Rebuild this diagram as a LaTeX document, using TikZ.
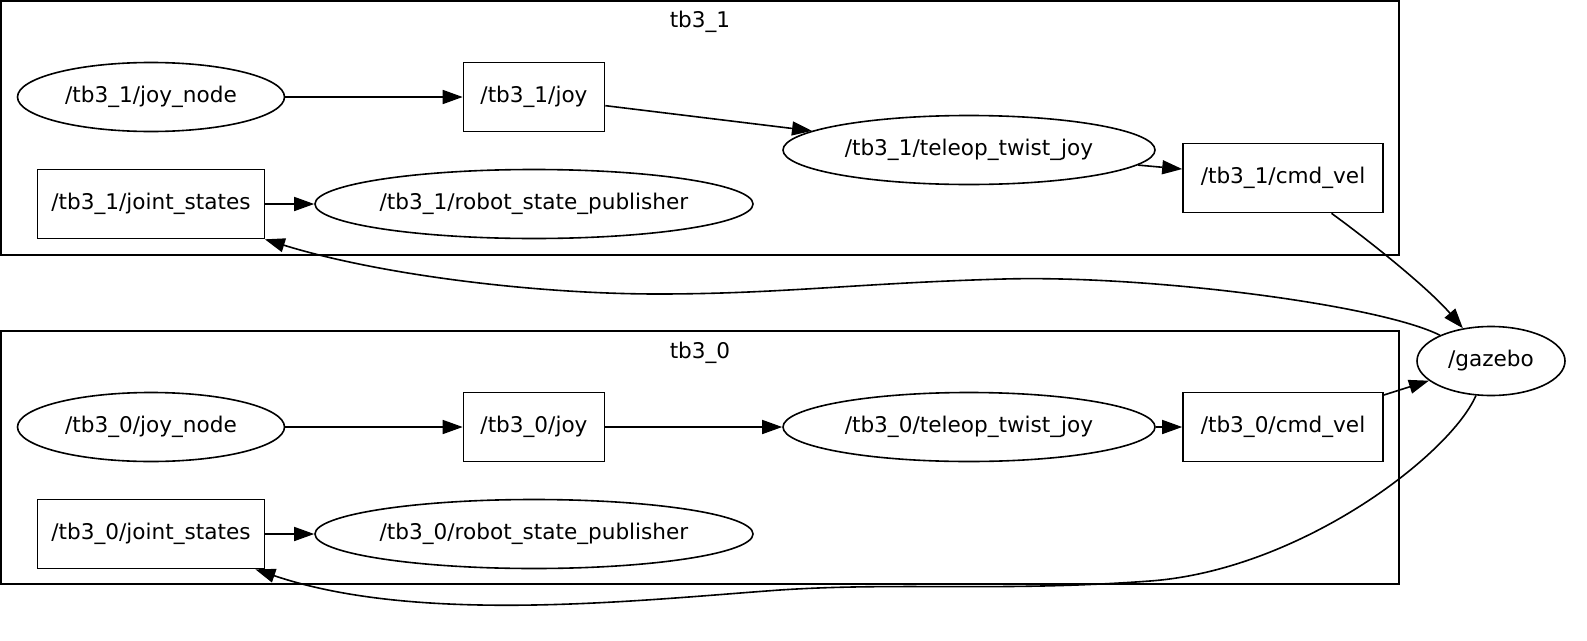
\documentclass[tikz,border=0pt]{standalone}
\usepackage{fontspec}
\setmainfont{DejaVu Sans}
\usetikzlibrary{shapes.geometric,arrows.meta}
\begin{document}
\begin{tikzpicture}[x=1pt,y=-1pt,line width=1.6pt,font=\fontsize{21.6}{25}\selectfont] % граф ros
\tikzstyle{rosnode} = [ellipse, draw, inner sep=0pt, minimum height=69pt] % node style
\tikzstyle{rostopic} = [rectangle, draw, inner sep=0pt, minimum height=69pt] % topic style
\tikzstyle{myedge} = [-{Triangle[length=20pt,width=14pt]}] % arrow style
\tikzstyle{mycluster} = [draw, line width=1.6pt] % namespace frame

\useasboundingbox (0,0) rectangle (1587,640);

% namespace tb3_1
\draw[mycluster] (1,1) rectangle (1399,255);
\node (lbl1) at (700,22) {tb3\_1};
\node[rosnode, minimum width=267pt] (jn1) at (151,97) {/tb3\_1/joy\_node};
\node[rostopic, minimum width=141pt] (joy1) at (534,97) {/tb3\_1/joy};
\node[rosnode, minimum width=372pt] (tt1) at (969,150) {/tb3\_1/teleop\_twist\_joy};
\node[rostopic, minimum width=200pt] (cv1) at (1283,178) {/tb3\_1/cmd\_vel};
\node[rostopic, minimum width=227pt] (js1) at (151,204) {/tb3\_1/joint\_states};
\node[rosnode, minimum width=438pt] (rsp1) at (534,204) {/tb3\_1/robot\_state\_publisher};

% namespace tb3_0
\draw[mycluster] (1,331) rectangle (1399,584);
\node (lbl0) at (700,353) {tb3\_0};
\node[rosnode, minimum width=267pt] (jn0) at (151,427) {/tb3\_0/joy\_node};
\node[rostopic, minimum width=141pt] (joy0) at (534,427) {/tb3\_0/joy};
\node[rosnode, minimum width=372pt] (tt0) at (969,427) {/tb3\_0/teleop\_twist\_joy};
\node[rostopic, minimum width=200pt] (cv0) at (1283,427) {/tb3\_0/cmd\_vel};
\node[rostopic, minimum width=227pt] (js0) at (151,534) {/tb3\_0/joint\_states};
\node[rosnode, minimum width=438pt] (rsp0) at (534,534) {/tb3\_0/robot\_state\_publisher};

\node[rosnode, minimum width=148pt] (gz) at (1491,361) {/gazebo};

% связи
\draw[myedge] (jn1) -- (joy1);
\draw[myedge] (joy1) -- (tt1);
\draw[myedge] (tt1) -- (cv1);
\draw[myedge] (js1) -- (rsp1);
\draw[myedge] (jn0) -- (joy0);
\draw[myedge] (joy0) -- (tt0);
\draw[myedge] (tt0) -- (cv0);
\draw[myedge] (js0) -- (rsp0);
\draw[myedge] (cv1) .. controls (1375,245) and (1430,290) .. (gz);
\draw[myedge] (cv0) -- (gz);
\draw[myedge] (gz) .. controls (1380,305) and (1150,275) .. (1004,279)
    .. controls (860,283) and (780,294) .. (658,294)
    .. controls (536,294) and (380,275) .. (js1);
\draw[myedge] (gz) .. controls (1450,455) and (1300,570) .. (1150,581)
    .. controls (1000,592) and (900,582) .. (780,590)
    .. controls (640,600) and (420,625) .. (js0);
\end{tikzpicture}
\end{document}
